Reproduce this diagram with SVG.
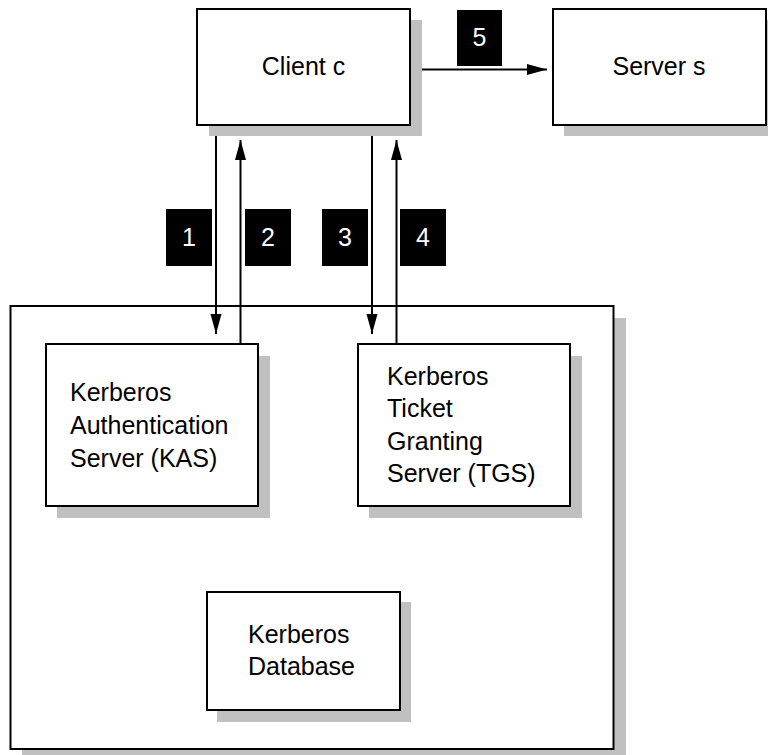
<svg xmlns="http://www.w3.org/2000/svg" width="768" height="755" viewBox="0 0 768 755">
<defs>
<style>
.shadow{fill:#c0c0c0;stroke:none}
.box{fill:#ffffff;stroke:#000000;stroke-width:2}
.t{font-family:"Liberation Sans",Arial,sans-serif;font-size:25px;fill:#000000}
.lbl{fill:#000000;stroke:none}
.lt{font-family:"Liberation Sans",Arial,sans-serif;font-size:25px;fill:#ffffff;text-anchor:middle}
.conn{stroke:#000000;stroke-width:2;fill:none}
</style>
<marker id="ah" markerUnits="userSpaceOnUse" markerWidth="22" markerHeight="12" refX="20" refY="5.5" orient="auto">
<path d="M0,0 L20,5.5 L0,11 z" fill="#000000"/>
</marker>
</defs>
<rect width="768" height="755" fill="#ffffff"/>
<g id="kerberos-system">
<rect class="shadow" x="22" y="318" width="604" height="443"/>
<rect class="box" x="10.5" y="306" width="603" height="443"/>
</g>
<g id="client">
<rect class="shadow" x="209" y="20" width="213" height="116"/>
<rect class="box" x="197" y="9" width="213" height="116"/>
<text class="t" x="303.5" y="75" text-anchor="middle">Client c</text>
</g>
<g id="server">
<rect class="shadow" x="564" y="20" width="213" height="116"/>
<rect class="box" x="553" y="9" width="213" height="116"/>
<text class="t" x="659" y="75" text-anchor="middle">Server s</text>
</g>
<g id="kas">
<rect class="shadow" x="57" y="356" width="213" height="162"/>
<rect class="box" x="46" y="344" width="212" height="162"/>
<text class="t" x="70" y="401">Kerberos</text>
<text class="t" x="70" y="434">Authentication</text>
<text class="t" x="70" y="467">Server (KAS)</text>
</g>
<g id="tgs">
<rect class="shadow" x="369" y="356" width="213" height="162"/>
<rect class="box" x="358" y="344" width="212" height="162"/>
<text class="t" x="387" y="385">Kerberos</text>
<text class="t" x="387" y="417">Ticket</text>
<text class="t" x="387" y="450">Granting</text>
<text class="t" x="387" y="482">Server (TGS)</text>
</g>
<g id="database">
<rect class="shadow" x="217" y="602" width="194" height="120"/>
<rect class="box" x="207" y="592" width="193" height="118"/>
<text class="t" x="248" y="643">Kerberos</text>
<text class="t" x="248" y="675">Database</text>
</g>
<g id="connectors">
<line class="conn" x1="216" y1="136" x2="216" y2="334" marker-end="url(#ah)"/>
<line class="conn" x1="240.5" y1="344" x2="240.5" y2="140" marker-end="url(#ah)"/>
<line class="conn" x1="372" y1="136" x2="372" y2="334" marker-end="url(#ah)"/>
<line class="conn" x1="396.5" y1="344" x2="396.5" y2="140" marker-end="url(#ah)"/>
<line class="conn" x1="422" y1="69.5" x2="547" y2="69.5" marker-end="url(#ah)"/>
</g>
<g id="label-1">
<rect class="lbl" x="166" y="209" width="46" height="57"/>
<text class="lt" x="189" y="246">1</text>
</g>
<g id="label-2">
<rect class="lbl" x="245" y="209" width="46" height="57"/>
<text class="lt" x="268" y="246">2</text>
</g>
<g id="label-3">
<rect class="lbl" x="322" y="209" width="46" height="57"/>
<text class="lt" x="345" y="246">3</text>
</g>
<g id="label-4">
<rect class="lbl" x="400" y="209" width="46" height="57"/>
<text class="lt" x="423" y="246">4</text>
</g>
<g id="label-5">
<rect class="lbl" x="457" y="10" width="45" height="56"/>
<text class="lt" x="479.5" y="46">5</text>
</g>
</svg>
